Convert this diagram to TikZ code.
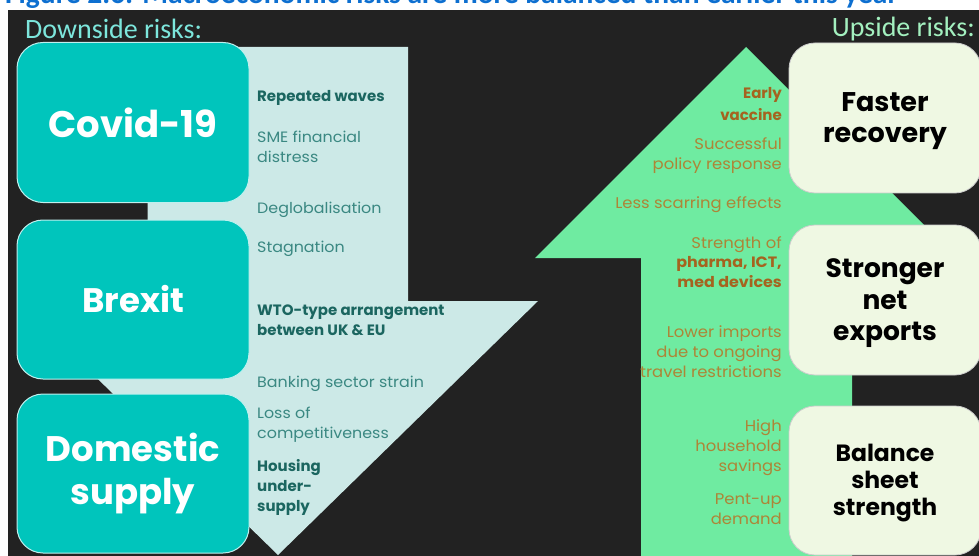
\documentclass[tikz,border=0pt]{standalone}
\usepackage{fontspec}
\setmainfont{Poppins}
\newfontfamily\gothic[FakeStretch=1.06]{Poppins}
\newfontfamily\calib{Carlito}
\definecolor{bgdark}{HTML}{222222}
\definecolor{titleblue}{HTML}{0D6FD0}
\definecolor{tealbox}{HTML}{00C5BC}
\definecolor{lightcyan}{HTML}{CCE9E7}
\definecolor{greenarrow}{HTML}{6FEBA1}
\definecolor{creambox}{HTML}{EFF8E3}
\definecolor{downhead}{HTML}{7DE6DC}
\definecolor{uphead}{HTML}{A3F0BF}
\definecolor{tealtxt}{HTML}{3A8882}
\definecolor{tealbold}{HTML}{1B6660}
\definecolor{browntxt}{HTML}{AD8537}
\definecolor{brownbold}{HTML}{A5631F}
\tikzset{
  downbox/.style={rectangle, rounded corners=26pt, fill=tealbox, draw=white!75!tealbox, line width=1pt,
    minimum width=232pt, text=white, align=center, inner sep=0pt},
  upbox/.style={rectangle, rounded corners=26pt, fill=creambox, draw=gray!40, line width=0.8pt,
    minimum width=192pt, inner sep=0pt},
  uplabel/.style={text=black, align=center, inner sep=0pt},
  ltxt/.style={anchor=north west, inner sep=0pt, align=left, text=tealtxt,
    font=\gothic\fontsize{15}{20}\selectfont},
  lbold/.style={anchor=north west, inner sep=0pt, align=left, text=tealbold,
    font=\bfseries\fontsize{15}{20}\selectfont},
  rtxt/.style={anchor=north east, inner sep=0pt, align=right, text=browntxt,
    font=\gothic\fontsize{15.5}{20}\selectfont},
}
\begin{document}
\begin{tikzpicture}[x=1pt,y=-1pt]
\useasboundingbox (0,0) rectangle (979,556);
\clip (0,0) rectangle (979,556);
\fill[bgdark] (8,10) rectangle (979,556);
\node[anchor=base west, inner sep=0pt, text=titleblue,
  font=\calib\bfseries\fontsize{29.5}{29.5}\selectfont] (title) at (5,4)
  {Figure 2.6: Macroeconomic risks are more balanced than earlier this year};
\node[anchor=west, inner sep=0pt, text=downhead, font=\calib\fontsize{28}{28}\selectfont]
  (downrisks) at (25,29) {Downside risks:};
\node[anchor=east, inner sep=0pt, text=uphead, font=\calib\fontsize{28}{28}\selectfont]
  (uprisks) at (975,29) {Upside risks:};
% arrows
\fill[lightcyan] (147.5,47) -- (408,47) -- (408,301) -- (538,301) -- (278,555)
  -- (18,301) -- (147.5,301) -- cycle;
\fill[greenarrow] (746,47) -- (957,258) -- (852,258) -- (852,560) -- (641,560)
  -- (641,258) -- (535,258) -- cycle;
% left boxes
\node[downbox, minimum height=160pt, font=\bfseries\fontsize{37}{40}\selectfont]
  (covid) at (133,122.5) {Covid-19};
\node[downbox, minimum height=159pt, font=\bfseries\fontsize{34}{40}\selectfont]
  (brexit) at (133,299.5) {Brexit};
\node[downbox, minimum height=159pt, font=\bfseries\fontsize{35.5}{43}\selectfont]
  (domestic) at (133,473.5) {Domestic\\supply};
% right boxes
\node[upbox, minimum height=150pt] (faster) at (885,118) {};
\node[upbox, minimum height=150pt] (stronger) at (885,300) {};
\node[upbox, minimum height=149pt] (balance) at (885,480.5) {};
\node[uplabel, font=\bfseries\fontsize{27}{31}\selectfont] (fasterlbl) at (885,121.5) {Faster\\recovery};
\node[uplabel, font=\bfseries\fontsize{26.5}{31.5}\selectfont] (strongerlbl) at (885,303.5) {Stronger\\net\\exports};
\node[uplabel, font=\bfseries\fontsize{23.5}{27}\selectfont] (balancelbl) at (885,483.5) {Balance\\sheet\\strength};
% left texts
\node[lbold] (t1) at (257,90) {Repeated waves};
\node[ltxt] (t2) at (257,131) {SME financial\\distress};
\node[ltxt] (t3) at (257,202) {Deglobalisation};
\node[ltxt] (t4) at (257,241) {Stagnation};
\node[lbold] (t5) at (257,305) {WTO-type arrangement\\between UK \& EU};
\node[ltxt] (t6) at (257,376) {Banking sector strain};
\node[ltxt] (t7) at (257,407) {Loss of\\competitiveness};
\node[lbold] (t8) at (257,459) {Housing\\under-\\supply};
% right texts
\node[rtxt, text=brownbold, font=\bfseries\fontsize{15}{22}\selectfont] (u1) at (782,87) {Early\\vaccine};
\node[rtxt] (u2) at (782,137) {Successful\\policy response};
\node[rtxt] (u3) at (782,196) {Less scarring effects};
\node[rtxt, font=\gothic\fontsize{15.5}{19.5}\selectfont] (u4) at (782,236) {Strength of\\\textcolor{brownbold}{\bfseries\fontsize{15}{19.5}\selectfont pharma, ICT,}\\\textcolor{brownbold}{\bfseries\fontsize{15}{19.5}\selectfont med devices}};
\node[rtxt] (u5) at (782,326) {Lower imports\\due to ongoing\\travel restrictions};
\node[rtxt] (u6) at (782,420) {High\\household\\savings};
\node[rtxt] (u7) at (782,493) {Pent-up\\demand};
\end{tikzpicture}
\end{document}
